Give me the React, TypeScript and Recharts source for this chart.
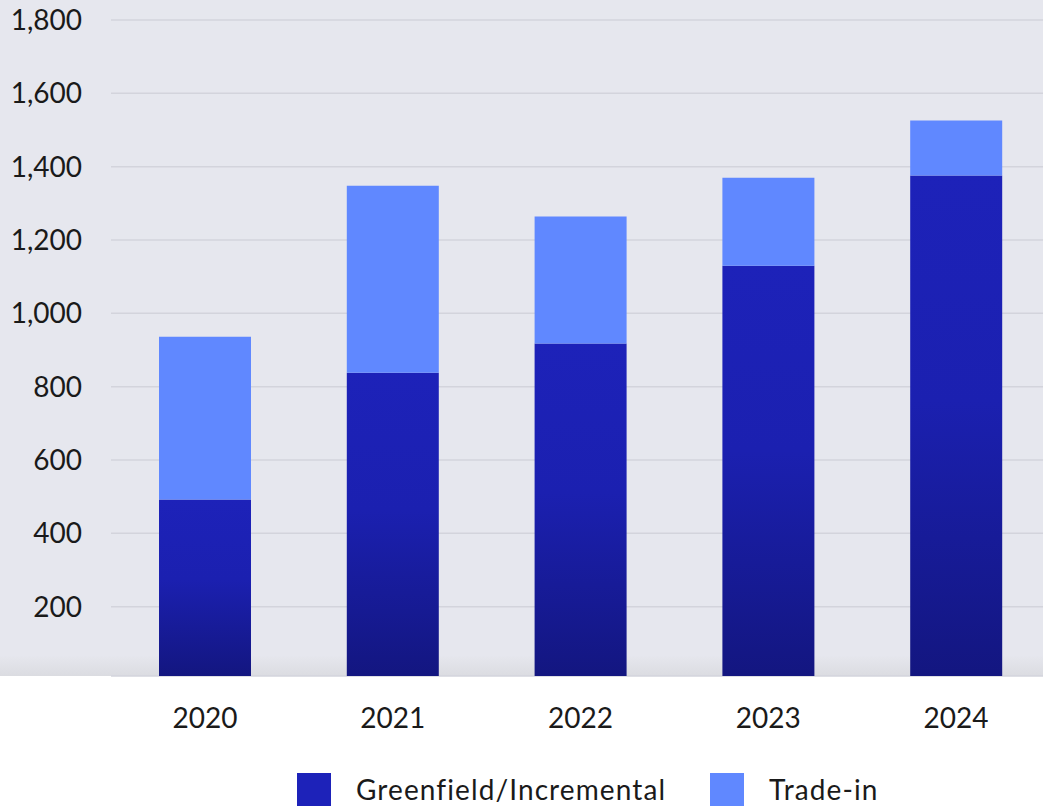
import React from 'react';
import { BarChart, Bar, XAxis, YAxis, CartesianGrid, Legend } from 'recharts';

const years = ['2020', '2021', '2022', '2023', '2024'];
const greenfield = [492, 838, 918, 1130, 1376];
const tradeIn = [444, 510, 346, 240, 150];
const yTicks = [200, 400, 600, 800, 1000, 1200, 1400, 1600, 1800];

const data = years.map((year, i) => ({
  year,
  greenfield: greenfield[i],
  tradeIn: tradeIn[i],
}));

const DARK = '#1d22b9';
const LIGHT = '#6088ff';

const legendItems = [
  { name: 'Greenfield/Incremental', color: DARK },
  { name: 'Trade-in', color: LIGHT },
];

const LegendContent = () => (
  <div style={{ display: 'flex', alignItems: 'flex-start', height: 50, paddingLeft: 297, paddingTop: 3, boxSizing: 'border-box' }}>
    {legendItems.map((item, i) => (
      <div key={item.name} style={{ display: 'flex', alignItems: 'flex-start', marginRight: i === 0 ? 44 : 0 }}>
        <div style={{ width: 34, height: 34, background: item.color, marginRight: 25 }} />
        <span
          style={{
            fontSize: 28,
            lineHeight: '32px',
            letterSpacing: 1.1,
            color: '#1a1a1a',
            fontFamily: 'Lato, sans-serif',
            whiteSpace: 'nowrap',
          }}
        >
          {item.name}
        </span>
      </div>
    ))}
  </div>
);

export default function App() {
  return (
    <div
      style={{
        position: 'absolute',
        left: 0,
        top: 0,
        width: 1043,
        height: 806,
        overflow: 'hidden',
        fontFamily: 'Lato, sans-serif',
        background: 'linear-gradient(to bottom, #e6e7ee 0px, #e6e7ee 655px, #dbdce1 676px, #ffffff 676px)',
      }}
    >
      <BarChart width={1050} height={830} data={data} margin={{ top: 20, right: 0, left: 0, bottom: 10 }}>
        <defs>
          <linearGradient id="darkGrad" x1="0" y1="0" x2="0" y2="1">
            <stop offset="0%" stopColor="#1d22b9" />
            <stop offset="45%" stopColor="#1b20b0" />
            <stop offset="100%" stopColor="#131680" />
          </linearGradient>
        </defs>
        <CartesianGrid vertical={false} stroke="#d3d4dc" strokeWidth={1.5} />
        <XAxis
          dataKey="year"
          axisLine={false}
          tickLine={false}
          tickSize={0}
          tickMargin={32}
          height={94}
          tick={{ fontSize: 28, fill: '#1a1a1a', fontFamily: 'Lato, sans-serif' }}
        />
        <YAxis
          width={111}
          domain={[11, 1800]}
          allowDataOverflow
          ticks={yTicks}
          axisLine={false}
          tickLine={false}
          tickSize={0}
          tickMargin={29}
          tickFormatter={(v: number) => v.toLocaleString('en-US')}
          tick={{ fontSize: 28, fill: '#1a1a1a', fontFamily: 'Lato, sans-serif' }}
        />
        <Legend verticalAlign="bottom" wrapperStyle={{ left: 0, width: 1050 }} content={() => <LegendContent />} />
        <Bar dataKey="greenfield" name="Greenfield/Incremental" stackId="a" fill="url(#darkGrad)" barSize={92} isAnimationActive={false} />
        <Bar dataKey="tradeIn" name="Trade-in" stackId="a" fill={LIGHT} barSize={92} isAnimationActive={false} />
      </BarChart>
    </div>
  );
}
